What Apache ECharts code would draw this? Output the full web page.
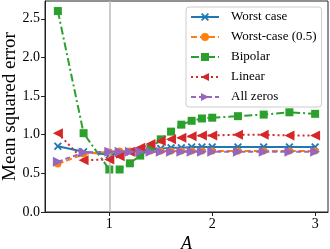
<!DOCTYPE html>
<html><head><meta charset="utf-8">
<script src="https://cdn.jsdelivr.net/npm/echarts@6/dist/echarts.min.js"></script>
<style>html,body{margin:0;padding:0;background:#fff}#c{width:330px;height:249px}</style>
</head><body><div id="c"></div>
<script>
const xs = [0.5, 0.75, 1.0, 1.1, 1.2, 1.3, 1.4, 1.5, 1.6, 1.7, 1.8, 1.9, 2.0, 2.25, 2.5, 2.75, 3.0];
const worstCase = [0.85, 0.78, 0.74, 0.76, 0.78, 0.80, 0.81, 0.82, 0.83, 0.83, 0.84, 0.84, 0.84, 0.84, 0.84, 0.84, 0.84];
const worstCaseHalf = [0.62, 0.75, 0.78, 0.79, 0.79, 0.79, 0.79, 0.79, 0.79, 0.79, 0.79, 0.79, 0.79, 0.79, 0.79, 0.79, 0.79];
const bipolar = [2.60, 1.02, 0.55, 0.55, 0.63, 0.73, 0.82, 0.94, 1.04, 1.13, 1.18, 1.21, 1.22, 1.24, 1.26, 1.29, 1.27];
const linear = [1.02, 0.67, 0.68, 0.72, 0.78, 0.83, 0.88, 0.92, 0.94, 0.96, 0.98, 0.99, 0.99, 1.00, 1.00, 0.99, 0.99];
const allZeros = [0.65, 0.77, 0.78, 0.78, 0.78, 0.78, 0.78, 0.78, 0.78, 0.78, 0.78, 0.78, 0.78, 0.78, 0.78, 0.78, 0.78];
const xTicks = [1, 2, 3];
const yTicks = [0, 0.5, 1.0, 1.5, 2.0, 2.5];
const names = ['Worst case', 'Worst-case (0.5)', 'Bipolar', 'Linear', 'All zeros'];

const FONT = 'Liberation Serif';
const pair = arr => xs.map((x, i) => [x, arr[i]]);
const X_PATH = 'path://M0,1.6 L1.6,0 L5,3.4 L8.4,0 L10,1.6 L6.6,5 L10,8.4 L8.4,10 L5,6.6 L1.6,10 L0,8.4 L3.4,5 Z';

function ser(name, data, color, lineType, symbol, size, rot, extra) {
  return Object.assign({
    name, type: 'line', data: pair(data),
    symbol, symbolSize: size, symbolRotate: rot || 0,
    showAllSymbol: true,
    lineStyle: { color, width: 2, type: lineType },
    itemStyle: { color, borderWidth: 0 },
    emphasis: { disabled: true },
    animation: false
  }, extra || {});
}

const chart = echarts.init(document.getElementById('c'), null, { renderer: 'canvas' });
chart.setOption({
  animation: false,
  grid: { left: 45, right: 2, top: 1, bottom: 37, containLabel: false, outerBoundsMode: 'none',
    show: true, borderColor: '#222', borderWidth: 1, backgroundColor: 'transparent' },
  xAxis: {
    type: 'value', min: 0.375, max: 3.125,
    name: 'A', nameLocation: 'middle', nameGap: 23, nameMoveOverlap: false,
    nameTextStyle: { fontFamily: FONT, fontSize: 18, fontStyle: 'italic', color: '#000' },
    axisLine: { show: true, onZero: false, lineStyle: { color: '#222', width: 1 } },
    axisTick: { show: true, inside: false, length: 4, customValues: xTicks, lineStyle: { color: '#222' } },
    axisLabel: { customValues: xTicks, fontFamily: FONT, fontSize: 14, color: '#000', margin: 5 },
    splitLine: { show: false }
  },
  yAxis: {
    type: 'value', min: 0, max: 2.73,
    name: 'Mean squared error', nameLocation: 'middle', nameGap: 25, nameRotate: 90, nameMoveOverlap: false,
    nameTextStyle: { fontFamily: FONT, fontSize: 19, color: '#000' },
    axisLine: { show: true, lineStyle: { color: '#222', width: 1 } },
    axisTick: { show: true, inside: false, length: 4, customValues: yTicks, lineStyle: { color: '#222' } },
    axisLabel: { customValues: yTicks, fontFamily: FONT, fontSize: 14, color: '#000', margin: 5,
      formatter: v => v.toFixed(1) },
    splitLine: { show: false }
  },
  legend: {
    orient: 'vertical', left: 186, top: 7,
    data: names,
    itemWidth: 28, itemHeight: 10, itemGap: 6,
    padding: [3, 5, 3, 4],
    backgroundColor: '#fff', borderColor: '#ccc', borderWidth: 1, borderRadius: 3,
    textStyle: { fontFamily: FONT, fontSize: 13, color: '#000', lineHeight: 14, padding: [0, 0, 0, 7] }
  },
  series: [
    ser(names[0], worstCase, '#1f77b4', 'solid', X_PATH, 8, 0, {
      markLine: { silent: true, symbol: 'none', label: { show: false },
        lineStyle: { color: '#bbb', width: 1.5, type: 'solid' },
        data: [{ xAxis: 1 }] }, z: 2 }),
    ser(names[1], worstCaseHalf, '#ff7f0e', [6, 3], 'circle', 7, 0, { z: 3 }),
    ser(names[2], bipolar, '#2ca02c', [8, 3, 2, 3], 'rect', 8, 0, { z: 4 }),
    ser(names[3], linear, '#d62728', [2, 3], 'triangle', 10, 90, { z: 5 }),
    ser(names[4], allZeros, '#9467bd', [5, 3], 'triangle', 10, -90, { z: 6 })
  ]
});
</script></body></html>
